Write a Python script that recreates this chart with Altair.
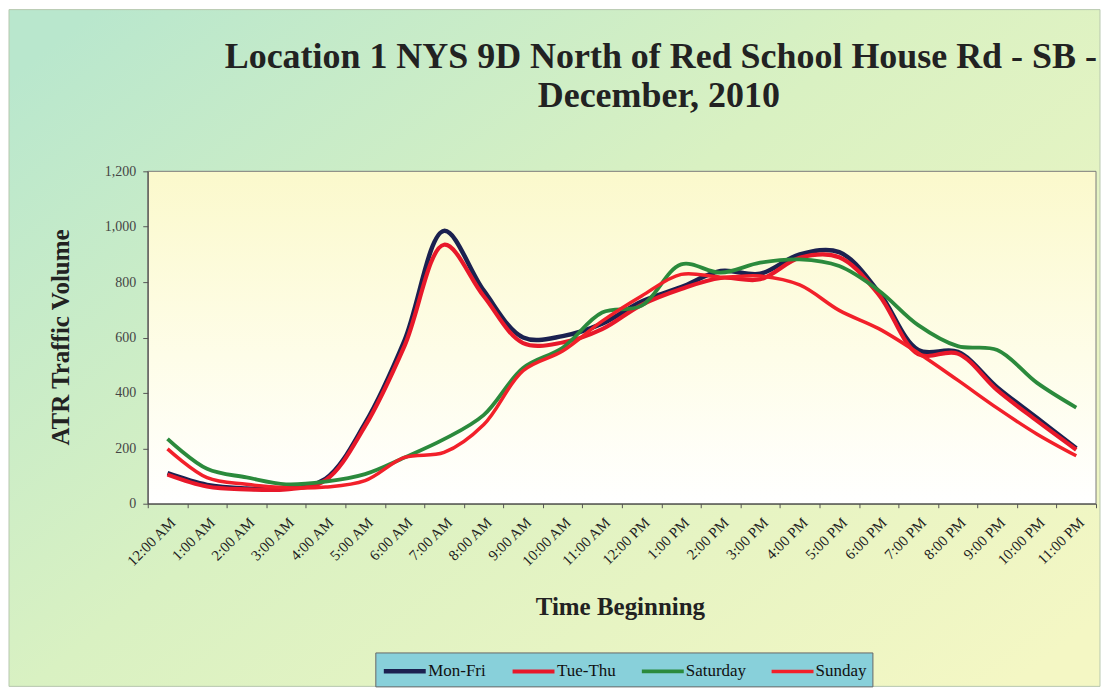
import altair as alt
import pandas as pd

hours = ["12:00 AM", "1:00 AM", "2:00 AM", "3:00 AM", "4:00 AM", "5:00 AM",
         "6:00 AM", "7:00 AM", "8:00 AM", "9:00 AM", "10:00 AM", "11:00 AM",
         "12:00 PM", "1:00 PM", "2:00 PM", "3:00 PM", "4:00 PM", "5:00 PM",
         "6:00 PM", "7:00 PM", "8:00 PM", "9:00 PM", "10:00 PM", "11:00 PM"]

series = ["Mon-Fri", "Tue-Thu", "Saturday", "Sunday"]

mon_fri = [110, 68, 55, 55, 90, 290, 590, 985, 770, 600, 605, 650,
           730, 782, 840, 830, 900, 908, 765, 555, 548, 420, 310, 200]
tue_thu = [105, 62, 52, 52, 85, 280, 570, 935, 750, 580, 582, 630,
           718, 775, 815, 810, 888, 890, 755, 540, 542, 410, 300, 195]
saturday = [234, 126, 95, 70, 80, 107, 167, 233, 320, 490, 563, 690,
            715, 864, 834, 870, 882, 858, 770, 645, 569, 555, 437, 347]
sunday = [198, 94, 70, 58, 60, 83, 167, 185, 285, 480, 551, 659,
          750, 828, 818, 822, 790, 698, 632, 544, 446, 345, 252, 173]

colors = ["#1b2150", "#e8182a", "#2b8a3c", "#f2202a"]
widths = [4.5, 3.5, 2, 2]

rows = []
for name, vals in zip(series, [mon_fri, tue_thu, saturday, sunday]):
    for h, v in zip(hours, vals):
        rows.append({"hour": h, "series": name, "volume": v})
df = pd.DataFrame(rows)

W, H = 950, 333
serif = "Liberation Serif"

one = pd.DataFrame({"k": [0]})

bg = alt.Chart(one).mark_rect(
    fill=alt.Gradient(
        gradient="linear",
        stops=[alt.GradientStop(color="#b9e7cd", offset=0),
               alt.GradientStop(color="#d9f1c2", offset=0.45),
               alt.GradientStop(color="#f4f7c4", offset=1)],
        x1=0, y1=0.1, x2=1, y2=0.9),
    stroke="#b8c8b0", strokeWidth=1,
).encode(x=alt.value(-139), x2=alt.value(954), y=alt.value(-162), y2=alt.value(516))

plotbg = alt.Chart(one).mark_rect(
    fill=alt.Gradient(
        gradient="linear",
        stops=[alt.GradientStop(color="#fbf9cc", offset=0),
               alt.GradientStop(color="#fefde8", offset=0.55),
               alt.GradientStop(color="#ffffff", offset=1)],
        x1=0, y1=0, x2=0, y2=1),
    stroke="#7a7a7a", strokeWidth=1,
).encode(x=alt.value(0), x2=alt.value(W), y=alt.value(0), y2=alt.value(H))

lines = alt.Chart(df).mark_line(interpolate="catmull-rom").encode(
    x=alt.X("hour:N", sort=hours, bandPosition=0.5,
            scale=alt.Scale(type="band", paddingInner=0, paddingOuter=0),
            axis=alt.Axis(title="Time Beginning", labelAngle=-45,
                          labelFont=serif, labelFontSize=15, labelColor="#222",
                          tickBand="extent", tickSize=4, tickColor="#555",
                          domainColor="#444", labelPadding=7,
                          titleFont=serif, titleFontSize=25, titleFontWeight="bold",
                          titleColor="#222", titleX=473, titleY=103,
                          titleBaseline="middle", zindex=1)),
    y=alt.Y("volume:Q", scale=alt.Scale(domain=[0, 1200]),
            axis=alt.Axis(title="ATR Traffic Volume", values=[0, 200, 400, 600, 800, 1000, 1200],
                          format=",.0f", grid=False, labelFont=serif, labelFontSize=14,
                          labelColor="#444", tickSize=5, tickColor="#555",
                          domainColor="#444", labelPadding=7,
                          titleFont=serif, titleFontSize=25, titleFontWeight="bold",
                          titleColor="#222", titleX=-87, titleY=166,
                          titleBaseline="middle", zindex=1)),
    color=alt.Color("series:N", sort=series,
                    scale=alt.Scale(domain=series, range=colors),
                    legend=alt.Legend(title=None, orient="none", legendX=228, legendY=482,
                                      direction="horizontal", symbolType="M-2.1,0H2.1",
                                      symbolSize=400, symbolStrokeWidth=4, symbolOffset=11,
                                      labelFont=serif, labelFontSize=17, labelColor="#111",
                                      labelOffset=11, columnPadding=18,
                                      padding=6, fillColor="#88d0da",
                                      strokeColor="#666", zindex=2)),
    strokeWidth=alt.StrokeWidth("series:N", sort=series,
                                scale=alt.Scale(domain=series, range=widths),
                                legend=None),
)

title1 = alt.Chart(one).mark_text(
    text="Location 1 NYS 9D North of Red School House Rd - SB -",
    font=serif, fontSize=36, fontWeight="bold", color="#222",
    align="center", baseline="alphabetic",
).encode(x=alt.value(514), y=alt.value(-104))

title2 = alt.Chart(one).mark_text(
    text="December, 2010",
    font=serif, fontSize=36, fontWeight="bold", color="#222",
    align="center", baseline="alphabetic",
).encode(x=alt.value(512), y=alt.value(-64))

chart = alt.layer(bg, plotbg, lines, title1, title2).properties(
    width=W, height=H, padding=0
).configure_view(stroke=None)

chart.save("out.html", embed_options={"renderer": "svg", "actions": False})
